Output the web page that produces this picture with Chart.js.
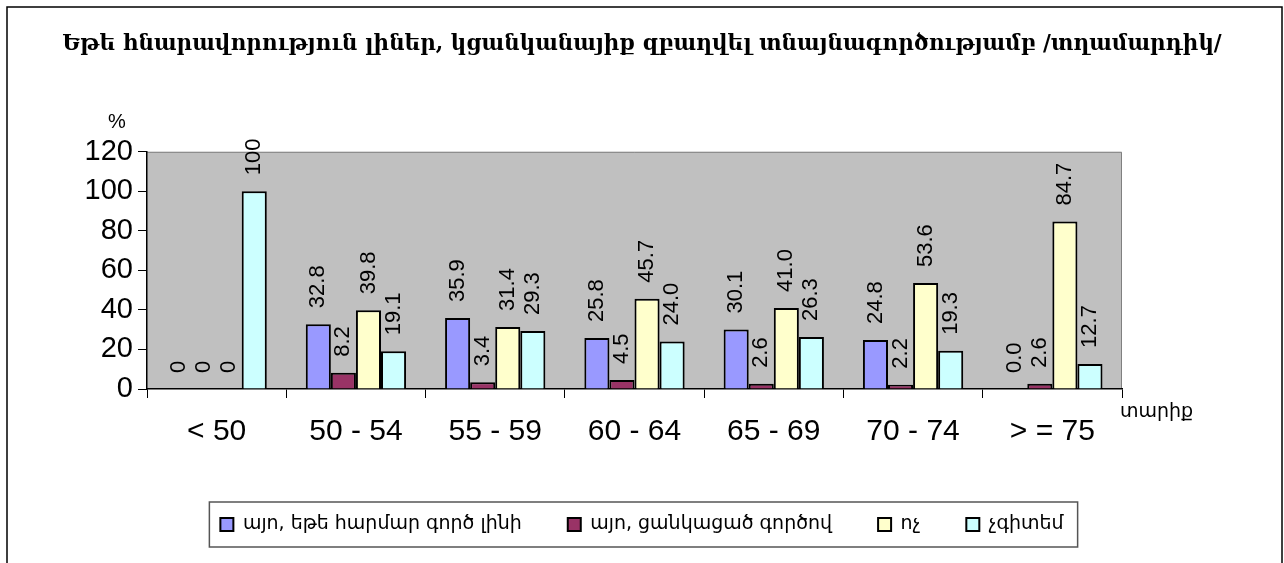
<!DOCTYPE html>
<html>
<head>
<meta charset="utf-8">
<script src="https://cdn.jsdelivr.net/npm/chart.js@4"></script>
<style>
  html, body { margin: 0; padding: 0; background: #fff; }
  #wrap { width: 1284px; height: 563px; }
</style>
</head>
<body>
<div id="wrap"><canvas id="chart" width="1284" height="563"></canvas></div>
<script>
// data
const ageGroups = ['< 50', '50 - 54', '55 - 59', '60 - 64', '65 - 69', '70 - 74', '> = 75'];
const yesIfSuitable = [0, 32.8, 35.9, 25.8, 30.1, 24.8, 0.0];
const yesAnyWork = [0, 8.2, 3.4, 4.5, 2.6, 2.2, 2.6];
const no = [0, 39.8, 31.4, 45.7, 41.0, 53.6, 84.7];
const dontKnow = [100, 19.1, 29.3, 24.0, 26.3, 19.3, 12.7];
const seriesNames = ['այո, եթե հարմար գործ լինի', 'այո, ցանկացած գործով', 'ոչ', 'չգիտեմ'];
const yTicks = [0, 20, 40, 60, 80, 100, 120];

const titleText = 'Եթե հնարավորություն լիներ, կցանկանայիք զբաղվել տնայնագործությամբ /տղամարդիկ/';
const colors = ['#9999FF', '#993366', '#FFFFCC', '#CCFFFF'];

const plotBg = {
  id: 'plotBg',
  beforeDraw(chart) {
    const { ctx, chartArea: a } = chart;
    ctx.save();
    // outer frame
    ctx.strokeStyle = '#000';
    ctx.lineWidth = 1.5;
    ctx.strokeRect(7, 7, 1275, 600);
    ctx.fillStyle = '#C0C0C0';
    ctx.fillRect(a.left, a.top, a.right - a.left, a.bottom - a.top);
    ctx.strokeStyle = '#808080';
    ctx.lineWidth = 1;
    ctx.beginPath();
    ctx.moveTo(a.left, a.top + 0.5);
    ctx.lineTo(a.right - 0.5, a.top + 0.5);
    ctx.lineTo(a.right - 0.5, a.bottom);
    ctx.stroke();
    ctx.restore();
  }
};

const valueLabels = {
  id: 'valueLabels',
  afterDatasetsDraw(chart) {
    const ctx = chart.ctx;
    ctx.save();
    ctx.font = '22px "Liberation Sans", Arial, sans-serif';
    ctx.fillStyle = '#000';
    ctx.textAlign = 'left';
    ctx.textBaseline = 'middle';
    chart.data.datasets.forEach((ds, i) => {
      chart.getDatasetMeta(i).data.forEach((bar, j) => {
        const v = ds.data[j];
        const txt = j === 0 ? String(v) : v.toFixed(1);
        ctx.save();
        ctx.translate(bar.x, bar.y - 16);
        ctx.rotate(-Math.PI / 2);
        ctx.fillText(txt, 0, 0);
        ctx.restore();
      });
    });
    ctx.restore();
  }
};

const extras = {
  id: 'extras',
  afterDraw(chart) {
    const { ctx, chartArea: a } = chart;
    ctx.save();
    ctx.fillStyle = '#000';
    ctx.font = '20px "Liberation Sans", Arial, sans-serif';
    ctx.textAlign = 'center';
    ctx.textBaseline = 'middle';
    ctx.fillText('%', 117, 122);
    ctx.font = '19px "DejaVu Sans", sans-serif';
    ctx.textAlign = 'left';
    ctx.fillText('տարիք', a.right - 2, 412);
    // legend frame
    const boxes = chart.legend.legendHitBoxes;
    if (boxes.length) {
      const l = Math.min(...boxes.map(b => b.left)) - 11;
      const r = Math.max(...boxes.map(b => b.left + b.width)) + 14;
      const t = Math.min(...boxes.map(b => b.top)) - 13;
      const btm = Math.max(...boxes.map(b => b.top + b.height)) + 13;
      ctx.strokeStyle = '#555';
      ctx.lineWidth = 1.5;
      ctx.strokeRect(l, t, r - l, btm - t);
    }
    ctx.restore();
  }
};

new Chart(document.getElementById('chart'), {
  type: 'bar',
  data: {
    labels: ageGroups,
    datasets: [yesIfSuitable, yesAnyWork, no, dontKnow].map((d, i) => ({
      label: seriesNames[i],
      data: d,
      backgroundColor: colors[i],
      borderColor: '#000',
      borderWidth: 2,
      categoryPercentage: 0.72,
      barPercentage: 1.0
    }))
  },
  options: {
    responsive: false,
    animation: false,
    layout: { padding: { top: 0, bottom: 19, left: 0, right: 0 } },
    plugins: {
      title: {
        display: true,
        text: titleText,
        color: '#000',
        font: { family: '"DejaVu Serif", serif', size: 21.5, weight: 'bold' },
        padding: { top: 32, bottom: 94 }
      },
      legend: {
        position: 'bottom',
        labels: {
          color: '#000',
          font: { family: '"DejaVu Sans", sans-serif', size: 19 },
          boxWidth: 13,
          boxHeight: 13,
          padding: 46
        }
      },
      tooltip: { enabled: false }
    },
    scales: {
      x: {
        grid: { drawOnChartArea: false, color: '#000', tickLength: 9, offset: true },
        border: { color: '#000', width: 1.5 },
        ticks: { color: '#000', font: { family: '"Liberation Sans", Arial, sans-serif', size: 30 }, padding: 16 },
        afterFit(s) { s.height = 80; }
      },
      y: {
        min: 0,
        max: 120,
        afterBuildTicks(s) { s.ticks = yTicks.map(v => ({ value: v })); },
        grid: { drawOnChartArea: false, color: '#000', tickLength: 9 },
        border: { color: '#000', width: 1.5 },
        ticks: {
          color: '#000',
          autoSkip: false,
          font: { family: '"Liberation Sans", Arial, sans-serif', size: 29 },
          padding: 5
        },
        afterFit(s) { s.width = 147; }
      },
      yRight: {
        position: 'right',
        display: true,
        grid: { display: false },
        border: { display: false },
        ticks: { display: false },
        afterFit(s) { s.width = 162; }
      }
    }
  },
  plugins: [plotBg, valueLabels, extras]
});
</script>
</body>
</html>
